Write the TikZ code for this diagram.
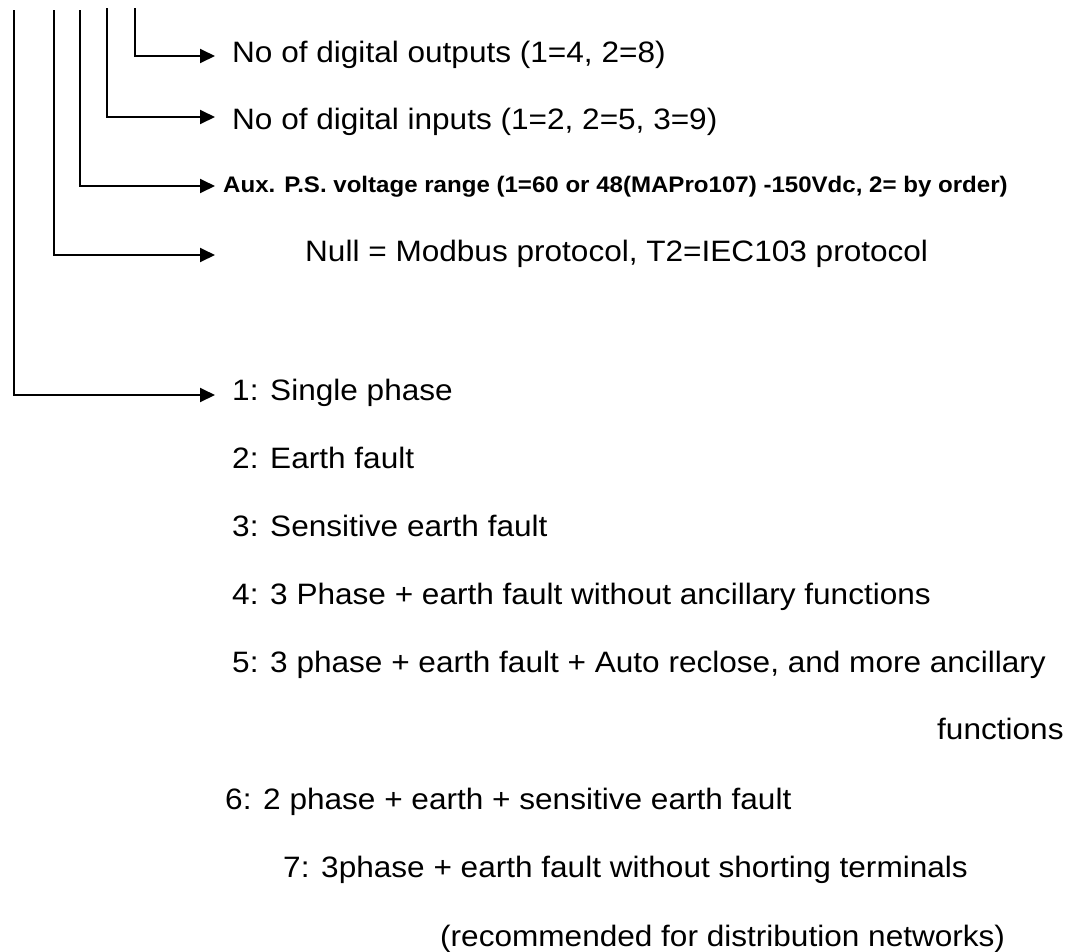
\documentclass[tikz,border=0pt]{standalone}
\usepackage{fontspec}
\setmainfont{Liberation Sans}[FakeStretch=1.07]
\usetikzlibrary{arrows.meta}
\tikzset{
  lead/.style={line width=1.9pt, -{Triangle[length=15pt,width=14pt]}},
  item/.style={anchor=base west, inner sep=0pt, font=\fontsize{29.5}{31}\selectfont},
  itemsmall/.style={anchor=base west, inner sep=0pt, font=\fontsize{22.5}{24}\selectfont\bfseries}
}
\begin{document}
\begin{tikzpicture}[x=1pt, y=-1pt]
		  \useasboundingbox (0,0) rectangle (1083,951);
                  % TOPS OF THE LINES
		  \coordinate (t1) at (14,10);
		  \coordinate (t2) at (54,10);
		  \coordinate (t3) at (80,10);
		  \coordinate (t4) at (107,8);
		  \coordinate (t5) at (135,8);
                  % ARROW ENDS
		  \coordinate (e1) at (215,395);
		  \coordinate (e2) at (215,255);
		  \coordinate (e3) at (215,186);
		  \coordinate (e4) at (215,117);
		  \coordinate (e5) at (215,56);

                  % LINES:
		  \draw[lead] (t1) |- (e1);
		  \draw[lead] (t2) |- (e2);
		  \draw[lead] (t3) |- (e3);
		  \draw[lead] (t4) |- (e4);
		  \draw[lead] (t5) |- (e5);

                  % NODES
		  \node[item] (outs) at (232,62) {No of digital outputs (1=4, 2=8)};
		  \node[item] (ins) at (232,129) {No of digital inputs (1=2, 2=5, 3=9)};
		  \node[itemsmall] (aux) at (223,192) {Aux. P.S. voltage range (1=60 or 48(MAPro107) -150Vdc, 2= by order)};
		  \node[item] (proto) at (305,261) {Null = Modbus protocol, T2=IEC103 protocol};
		  \node[item] (v1) at (232,400) {1: Single phase};
		  \node[item] (v2) at (232,468) {2: Earth fault};
		  \node[item] (v3) at (232,536) {3: Sensitive earth fault};
		  \node[item] (v4) at (232,604) {4: 3 Phase + earth fault without ancillary functions};
		  \node[item] (v5) at (232,672) {5: 3 phase + earth fault + Auto reclose, and more ancillary};
		  \node[item] (v5b) at (937,739) {functions};
		  \node[item] (v6) at (225,809) {6: 2 phase + earth + sensitive earth fault};
		  \node[item] (v7) at (283,877) {7: 3phase + earth fault without shorting terminals};
		  \node[item] (v7b) at (440,946) {(recommended for distribution networks)};
\end{tikzpicture}
\end{document}
